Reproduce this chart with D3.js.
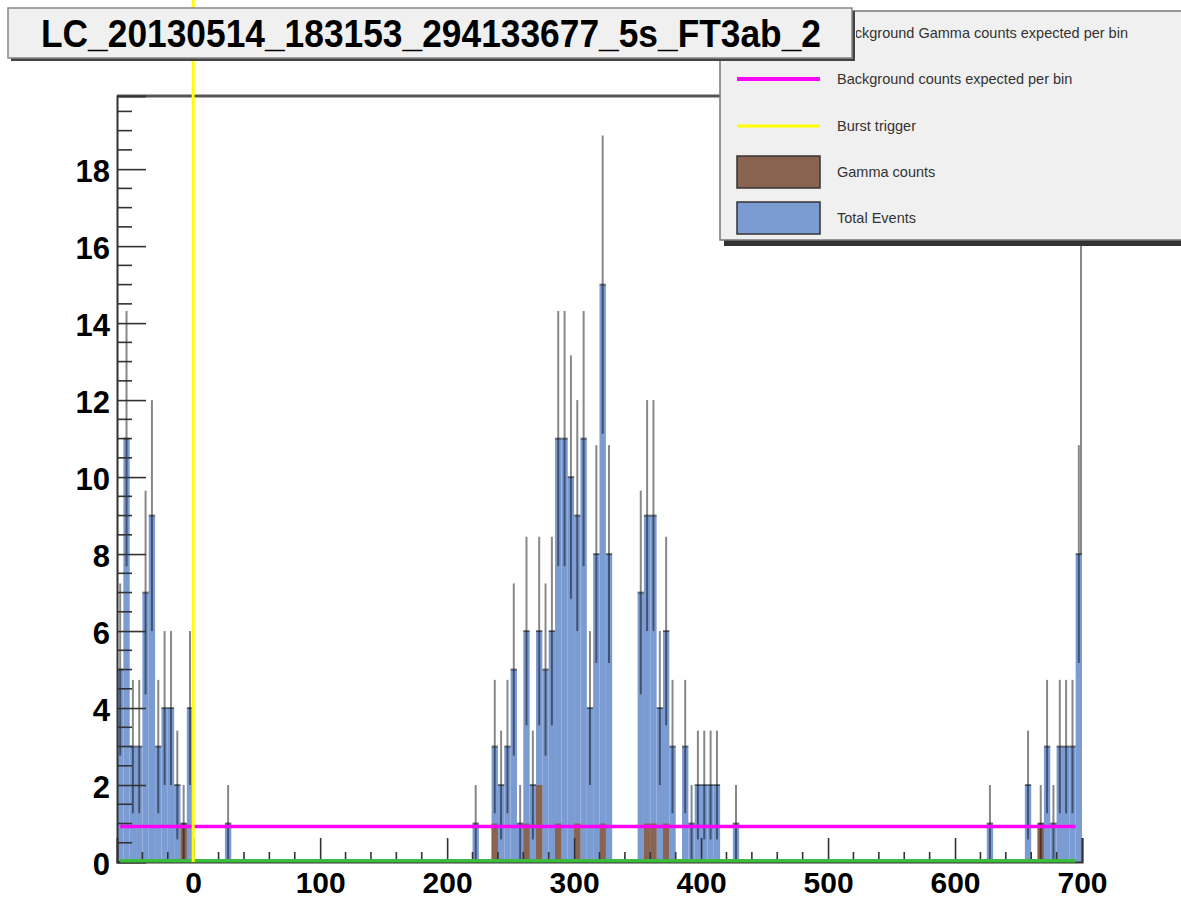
<!DOCTYPE html>
<html><head><meta charset="utf-8">
<script src="https://cdn.jsdelivr.net/npm/d3@7"></script>
<style>
body{margin:0;background:#fff;}
svg{display:block;font-family:"Liberation Sans",Arial,Helvetica,sans-serif;}
</style>
</head><body>
<svg id="chart" width="1181" height="902"></svg>
<script>
// ---------------- data ----------------
const binWidth = 5;
const totalBins = [-60,-55,-50,-45,-40,-35,-30,-25,-20,-15,-10,-5,
  25,
  220,235,240,245,250,255,260,265,270,275,280,285,290,295,300,305,310,315,320,325,
  350,355,360,365,370,375,385,390,395,400,405,410,425,
  625,655,665,670,675,680,685,690,695];
const totalCounts = [5,11,3,3,7,9,3,4,4,2,1,4,
  1,
  1,3,2,3,5,1,6,2,6,5,6,11,11,10,9,11,4,8,15,8,
  7,9,9,4,6,3,3,1,2,2,2,2,1,
  1,2,1,3,1,3,3,3,8];
const gammaBins = [-10,235,260,270,285,300,320,355,360,370,665];
const gammaCounts = [1,1,1,2,1,1,1,1,1,1,1];
const xDomain = [-60, 700];
const yDomain = [0, 19.9];
const xTickValues = [0,100,200,300,400,500,600,700];
const yTickValues = [0,2,4,6,8,10,12,14,16,18];
const backgroundLevel = 0.92;        // Background counts expected per bin
const gammaBackgroundLevel = 0.03;   // Background Gamma counts expected per bin
const lineRange = [-57.5, 695];
const triggerTime = 0;
const titleText = "LC_20130514_183153_294133677_5s_FT3ab_2";
const legendLabels = ["Background Gamma counts expected per bin","Background counts expected per bin","Burst trigger","Gamma counts","Total Events"];

// ---------------- layout ----------------
const plot = {left:117, right:1082, top:96, bottom:862};
const colors = {total:"#7b9bd3", gamma:"#8a6450", bkg:"#ff00ff", gbkg:"#3cbc3c", trig:"#ffff00"};

const svg = d3.select("#chart");
const x = d3.scaleLinear().domain(xDomain).range([plot.left, plot.right]);
const y = d3.scaleLinear().domain(yDomain).range([plot.bottom, plot.top]);

const defs = svg.append("defs");
defs.append("clipPath").attr("id","clip")
  .append("rect").attr("x",plot.left).attr("y",plot.top)
  .attr("width",plot.right-plot.left).attr("height",plot.bottom-plot.top);
defs.append("clipPath").attr("id","legclip")
  .append("rect").attr("x",856).attr("y",11).attr("width",330).attr("height",229);

// frame
svg.append("line").attr("x1",plot.left).attr("x2",plot.right).attr("y1",plot.top).attr("y2",plot.top)
  .attr("stroke","#555").attr("stroke-width",3);
svg.append("line").attr("x1",plot.right-1).attr("x2",plot.right-1).attr("y1",plot.top).attr("y2",plot.bottom)
  .attr("stroke","#888").attr("stroke-width",2);

const totals = totalBins.map((b,i)=>({b, c:totalCounts[i]}));
const gammas = gammaBins.map((b,i)=>({b, c:gammaCounts[i]}));

const g = svg.append("g").attr("clip-path","url(#clip)");
g.selectAll("rect.tot").data(totals).join("rect").attr("class","tot")
  .attr("x",d=>x(d.b)).attr("width",d=>x(d.b+binWidth)-x(d.b))
  .attr("y",d=>y(d.c)).attr("height",d=>y(0)-y(d.c))
  .attr("fill",colors.total);
g.selectAll("rect.gam").data(gammas).join("rect").attr("class","gam")
  .attr("x",d=>x(d.b)).attr("width",d=>x(d.b+binWidth)-x(d.b))
  .attr("y",d=>y(d.c)).attr("height",d=>y(0)-y(d.c))
  .attr("fill",colors.gamma);

// error bars
const eb = g.append("g").attr("stroke","#000").attr("stroke-opacity",0.47).attr("stroke-width",2);
eb.selectAll("line.v").data(totals).join("line").attr("class","v")
  .attr("x1",d=>x(d.b+binWidth/2)).attr("x2",d=>x(d.b+binWidth/2))
  .attr("y1",d=>y(Math.max(0,d.c-Math.sqrt(d.c)))).attr("y2",d=>y(d.c+Math.sqrt(d.c)));
eb.selectAll("line.h").data(totals).join("line").attr("class","h")
  .attr("x1",d=>x(d.b)).attr("x2",d=>x(d.b+binWidth))
  .attr("y1",d=>y(d.c)).attr("y2",d=>y(d.c));

// background line
svg.append("line").attr("x1",x(lineRange[0])).attr("x2",x(lineRange[1]))
  .attr("y1",y(backgroundLevel)).attr("y2",y(backgroundLevel))
  .attr("stroke",colors.bkg).attr("stroke-width",3.5);

// axes
const xAxis = svg.append("g").attr("transform",`translate(0,${plot.bottom})`)
  .call(d3.axisBottom(x).tickValues(xTickValues).tickSize(-24).tickPadding(10).tickFormat(d3.format("d")));
const xMinor = d3.range(-40, 700, 20).filter(v=>v%100!==0);
xAxis.selectAll("line.minor").data(xMinor).join("line").attr("class","minor")
  .attr("x1",d=>x(d)).attr("x2",d=>x(d)).attr("y1",0).attr("y2",-10);
const yAxis = svg.append("g").attr("transform",`translate(${plot.left},0)`)
  .call(d3.axisLeft(y).tickValues(yTickValues).tickSize(-29).tickPadding(7).tickFormat(d3.format("d")));
const yMinor = d3.range(0.5, 19.9, 0.5).filter(v=>v%2!==0);
yAxis.selectAll("line.minor").data(yMinor).join("line").attr("class","minor")
  .attr("y1",d=>y(d)).attr("y2",d=>y(d)).attr("x1",0).attr("x2",15);
[xAxis,yAxis].forEach(a=>{
  a.select(".domain").attr("stroke","#333").attr("stroke-width",2);
  a.selectAll("line").attr("stroke","#333").attr("stroke-width",1.6);
  a.selectAll("text").attr("font-weight","bold").attr("fill","#000")
   .attr("font-family","'Liberation Sans',Arial,sans-serif");
});
xAxis.selectAll(".tick text").attr("font-size",30).attr("dy","0.71em");
yAxis.selectAll(".tick text").attr("font-size",31).attr("dy","0.4em");

// gamma background (over axis)
svg.append("line").attr("x1",x(lineRange[0])).attr("x2",x(lineRange[1]))
  .attr("y1",y(gammaBackgroundLevel)).attr("y2",y(gammaBackgroundLevel))
  .attr("stroke",colors.gbkg).attr("stroke-width",3.5);

// trigger line
svg.append("line").attr("x1",x(triggerTime)).attr("x2",x(triggerTime))
  .attr("y1",y(0)).attr("y2",0)
  .attr("stroke",colors.trig).attr("stroke-width",3);

// legend
const lg = svg.append("g");
lg.append("rect").attr("x",724).attr("y",15).attr("width",470).attr("height",231).attr("fill","#333");
lg.append("rect").attr("x",720).attr("y",11).attr("width",470).attr("height",229)
  .attr("fill","#f0f0f0").attr("stroke","#777").attr("stroke-width",1.5);
const legendY = [33,79,126,172,218];
const sampleX = [737,820];
lg.append("line").attr("x1",sampleX[0]).attr("x2",sampleX[1]).attr("y1",legendY[0]).attr("y2",legendY[0])
  .attr("stroke",colors.gbkg).attr("stroke-width",4);
lg.append("line").attr("x1",sampleX[0]).attr("x2",sampleX[1]).attr("y1",legendY[1]).attr("y2",legendY[1])
  .attr("stroke",colors.bkg).attr("stroke-width",4);
lg.append("line").attr("x1",sampleX[0]).attr("x2",sampleX[1]).attr("y1",legendY[2]).attr("y2",legendY[2])
  .attr("stroke",colors.trig).attr("stroke-width",3);
lg.append("rect").attr("x",sampleX[0]).attr("y",legendY[3]-16).attr("width",sampleX[1]-sampleX[0]).attr("height",32)
  .attr("fill",colors.gamma).attr("stroke","#333").attr("stroke-width",1.5);
lg.append("rect").attr("x",sampleX[0]).attr("y",legendY[4]-16).attr("width",sampleX[1]-sampleX[0]).attr("height",32)
  .attr("fill",colors.total).attr("stroke","#333").attr("stroke-width",1.5);
lg.selectAll("text").data(legendLabels).join("text")
  .attr("x",837).attr("y",(d,i)=>legendY[i]).attr("dy","0.35em")
  .attr("clip-path",(d,i)=>i===0?"url(#legclip)":null)
  .attr("font-size",14.5).attr("fill","#333").text(d=>d);

// title
const tg = svg.append("g");
tg.append("rect").attr("x",11).attr("y",11).attr("width",844).attr("height",50).attr("fill","#444");
tg.append("rect").attr("x",8).attr("y",8).attr("width",844).attr("height",50)
  .attr("fill","#f0f0f0").attr("stroke","#888").attr("stroke-width",1.5);
tg.append("text").attr("x",41).attr("y",47).attr("font-size",38).attr("font-weight","bold")
  .attr("textLength",780).attr("lengthAdjust","spacingAndGlyphs").attr("fill","#000")
  .text(titleText);
</script>
</body></html>
